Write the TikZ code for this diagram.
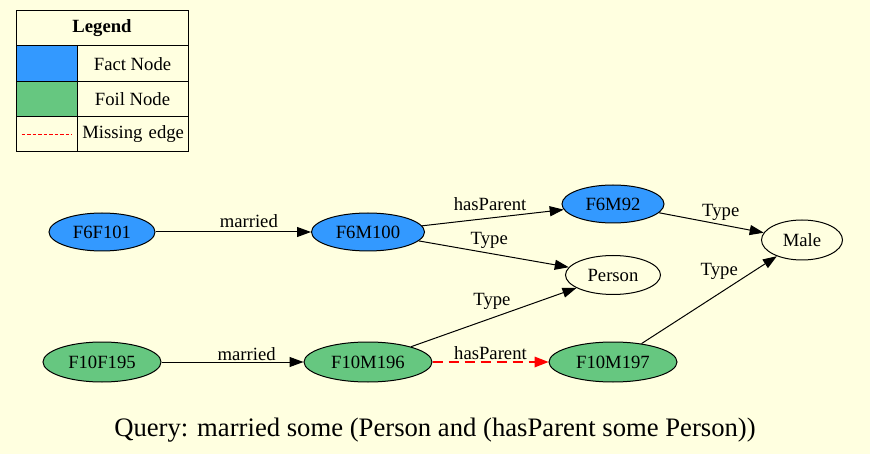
\documentclass[tikz,border=0pt]{standalone}
\usepackage{fontspec}
\setmainfont{Liberation Serif}
\usetikzlibrary{shapes.geometric,arrows.meta}
\definecolor{bgyellow}{RGB}{255,255,224}
\definecolor{factblue}{RGB}{51,153,255}
\definecolor{foilgreen}{RGB}{102,199,128}
\tikzset{
  ent/.style={ellipse,draw,line width=1pt,minimum height=38pt,inner sep=0pt,font=\fontsize{18.67}{22}\selectfont},
  fact/.style={ent,fill=factblue},
  foil/.style={ent,fill=foilgreen},
  cls/.style={ent,fill=bgyellow},
  rel/.style={line width=1pt,-{Triangle[length=14pt,width=10pt]}},
  miss/.style={rel,red,line width=2.5pt,dash pattern=on 10pt off 6pt,-{Triangle[length=14pt,width=11pt,line width=0pt]}},
  lbl/.style={inner sep=1pt,font=\fontsize{18.67}{22}\selectfont},
  cell/.style={draw,line width=1pt,inner sep=0pt,font=\fontsize{18.67}{22}\selectfont}
}
\begin{document}
\begin{tikzpicture}[x=1pt,y=-1pt]
  \fill[bgyellow] (0,0) rectangle (870,454);
  \useasboundingbox (0,0) rectangle (870,454);

  \node[cell,minimum width=172pt,minimum height=35pt,font=\fontsize{18.67}{22}\selectfont\bfseries] (legtitle) at (102,28.5) {Legend};
  \node[cell,fill=factblue,minimum width=61pt,minimum height=36pt] (factkey) at (46.5,64) {};
  \node[cell,minimum width=111pt,minimum height=36pt] (facttext) at (132.5,64) {Fact Node};
  \node[cell,fill=foilgreen,minimum width=61pt,minimum height=35pt] (foilkey) at (46.5,99.5) {};
  \node[cell,minimum width=111pt,minimum height=35pt] (foiltext) at (132.5,99.5) {Foil Node};
  \node[cell,minimum width=61pt,minimum height=35pt] (misskey) at (46.5,134.5) {};
  \node[cell,minimum width=111pt,minimum height=35pt,text width=103pt,align=right] (misstext) at (132.5,134.5) {Missing edge};
  \draw[red,line width=0.8pt,dash pattern=on 3.5pt off 2pt] ([xshift=6pt]misskey.west) -- ([xshift=-6pt]misskey.east);

  \node[fact,minimum width=106pt] (F6F101) at (102,232) {F6F101};
  \node[fact,minimum width=113pt] (F6M100) at (368,232) {F6M100};
  \node[fact,minimum width=102pt] (F6M92) at (613,204) {F6M92};
  \node[cls,minimum width=81pt,minimum height=40pt] (male) at (802,240) {Male};
  \node[cls,minimum width=95pt,minimum height=39pt] (person) at (613,275) {Person};
  \node[foil,minimum width=118pt,minimum height=40pt] (F10F195) at (102,362) {F10F195};
  \node[foil,minimum width=128pt,minimum height=40pt] (F10M196) at (368,362) {F10M196};
  \node[foil,minimum width=128pt,minimum height=40pt] (F10M197) at (613,362) {F10M197};

  \draw[rel] (F6F101) -- node[lbl,pos=0.6,above=3pt] {married} (F6M100);
  \draw[rel] (F6M100) -- node[lbl,pos=0.48,above=6pt] {hasParent} (F6M92);
  \draw[rel] (F6M100) -- node[lbl,pos=0.47,above=3pt] {Type} (person);
  \draw[rel] (F6M92) -- node[lbl,pos=0.59,above=2pt] {Type} (male);
  \draw[rel] (F10F195) -- node[lbl,pos=0.6,above] {married} (F10M196);
  \draw[rel] (F10M196) -- node[lbl,pos=0.61,anchor=south east] {Type} (person);
  \draw[miss] (F10M196) -- node[lbl,pos=0.5,above,black] {hasParent} (F10M197);
  \draw[rel] (F10M197) -- node[lbl,pos=0.7,anchor=south east,xshift=3pt,yshift=1pt] {Type} (male);

  \node[font=\fontsize{26.67}{30}\selectfont] (query) at (435,430) {Query: married some (Person and (hasParent some Person))};
\end{tikzpicture}
\end{document}
